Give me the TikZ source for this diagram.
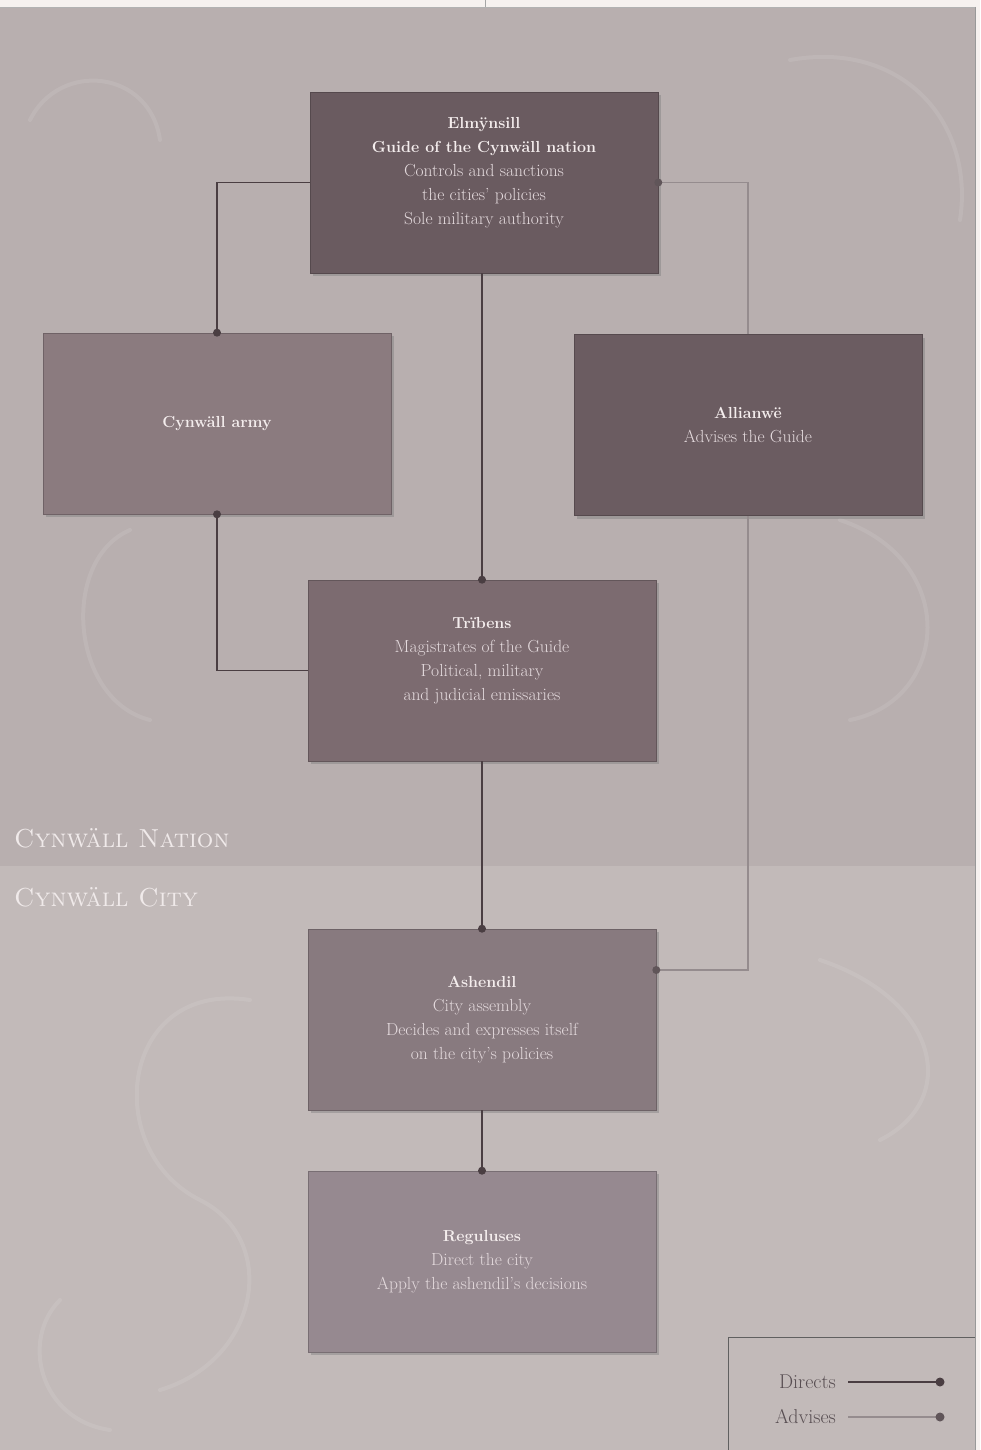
\documentclass[tikz,border=0pt]{standalone}
\usetikzlibrary{shadows}
\definecolor{bgup}{HTML}{B8AFAF}
\definecolor{bglow}{HTML}{C2BAB9}
\definecolor{paper}{HTML}{F6F1EF}
\definecolor{cTop}{HTML}{6A5B60}
\definecolor{cArmy}{HTML}{8B7B7F}
\definecolor{cAll}{HTML}{6B5C61}
\definecolor{cTri}{HTML}{7C6B70}
\definecolor{cAsh}{HTML}{887A7F}
\definecolor{cReg}{HTML}{968990}
\definecolor{dirc}{HTML}{4A3E42}
\definecolor{advc}{HTML}{958C8E}
\definecolor{ttl}{HTML}{F4EDED}
\definecolor{sub}{HTML}{E4DADD}
\definecolor{seclbl}{HTML}{F0EAEA}
\definecolor{legc}{HTML}{584E52}
\tikzset{
  orgbox/.style={draw=#1!80!black, line width=0.6pt, fill=#1, minimum width=348pt, minimum height=181pt,
    inner sep=4pt, align=center, text=sub, font=\fontsize{17.5}{24}\selectfont,
    drop shadow={opacity=0.45, shadow xshift=3pt, shadow yshift=-3pt}},
  dirline/.style={draw=dirc, line width=1.8pt},
  advline/.style={draw=advc, line width=1.8pt},
  dirdot/.style={fill=dirc, draw=none},
  advdot/.style={fill=dirc!70!advc, draw=none},
  seclabel/.style={anchor=base west, text=seclbl, font=\fontsize{26}{26}\selectfont\scshape},
  legtext/.style={anchor=base east, text=legc, font=\fontsize{20}{20}\selectfont},
  wmark/.style={draw=white, opacity=0.09, line width=4pt, line cap=round}
}
\newcommand{\ttlline}[1]{\textcolor{ttl}{\fontsize{16}{24}\selectfont\bfseries #1}}
\begin{document}
\begin{tikzpicture}[x=1pt,y=-1pt]
\useasboundingbox (0,0) rectangle (980,1450);
% background
\fill[paper] (0,0) rectangle (980,1450);
\fill[bgup] (0,7) rectangle (975,866);
\fill[bglow] (0,866) rectangle (975,1450);
\draw[gray!70, line width=0.8pt] (485,0) -- (485,7);
\draw[gray!60, line width=0.6pt] (0,7) -- (975,7);
\draw[gray!80, line width=0.8pt] (975,7) -- (975,1450);
% faint background script
\draw[wmark] (790,60) .. controls (900,40) and (975,120) .. (960,220);
\draw[wmark] (30,120) .. controls (60,60) and (150,70) .. (160,140);
\draw[wmark] (130,530) .. controls (60,560) and (70,700) .. (150,720);
\draw[wmark] (840,520) .. controls (960,560) and (950,700) .. (850,720);
\draw[wmark] (250,1000) .. controls (120,980) and (100,1150) .. (200,1200) .. controls (280,1240) and (260,1360) .. (160,1390);
\draw[wmark] (820,960) .. controls (940,1000) and (960,1100) .. (880,1140);
\draw[wmark] (60,1300) .. controls (20,1340) and (40,1420) .. (110,1430);

% boxes
\node[orgbox=cTop] (top) at (484,182.5) {\ttlline{Elmÿnsill}\\\ttlline{Guide of the Cynwäll nation}\\Controls and sanctions\\the cities' policies\\Sole military authority\\\mbox{}};
\node[orgbox=cArmy] (army) at (217,423.5) {\ttlline{Cynwäll army}};
\node[orgbox=cAll] (allianwe) at (748,425) {\ttlline{Allianwë}\\Advises the Guide};
\node[orgbox=cTri] (tribens) at (482,670.5) {\ttlline{Trïbens}\\Magistrates of the Guide\\Political, military\\and judicial emissaries\\\mbox{}};
\node[orgbox=cAsh] (ashendil) at (482,1019.5) {\ttlline{Ashendil}\\City assembly\\Decides and expresses itself\\on the city's policies};
\node[orgbox=cReg] (reguluses) at (482,1261.5) {\ttlline{Reguluses}\\Direct the city\\Apply the ashendil's decisions};

% connectors: directs
\draw[dirline] (top.west) -| (army.north);
\fill[dirdot] (army.north) circle (4pt);
\draw[dirline] (tribens.north |- top.south) -- (tribens.north);
\fill[dirdot] (tribens.north) circle (4pt);
\draw[dirline] (tribens.west) -| (army.south);
\fill[dirdot] (army.south) circle (4pt);
\draw[dirline] (tribens.south) -- (ashendil.north);
\fill[dirdot] (ashendil.north) circle (4pt);
\draw[dirline] (ashendil.south) -- (reguluses.north);
\fill[dirdot] (reguluses.north) circle (4pt);

% connectors: advises
\draw[advline] (allianwe.north) |- (top.east);
\fill[advdot] (top.east) circle (4pt);
\coordinate (ashin) at ([yshift=49.5pt]ashendil.east);
\draw[advline] (allianwe.south) |- (ashin);
\fill[advdot] (ashin) circle (4pt);

% section labels
\node[seclabel, inner sep=0pt] (nation) at (14,847) {Cynwäll Nation};
\node[seclabel, inner sep=0pt] (city) at (14,906) {Cynwäll City};

% legend
\draw[gray!75!black, line width=0.8pt] (728,1450) -- (728,1337) -- (975,1337);
\node[legtext, inner sep=0pt] (ldir) at (836,1388) {Directs};
\node[legtext, inner sep=0pt] (ladv) at (836,1423) {Advises};
\coordinate (ldirA) at (848,1382);
\coordinate (ldirB) at (940,1382);
\coordinate (ladvA) at (848,1417);
\coordinate (ladvB) at (940,1417);
\draw[dirline] (ldirA) -- (ldirB);
\fill[dirdot] (ldirB) circle (4.5pt);
\draw[advline] (ladvA) -- (ladvB);
\fill[advdot] (ladvB) circle (4.5pt);
\end{tikzpicture}
\end{document}
